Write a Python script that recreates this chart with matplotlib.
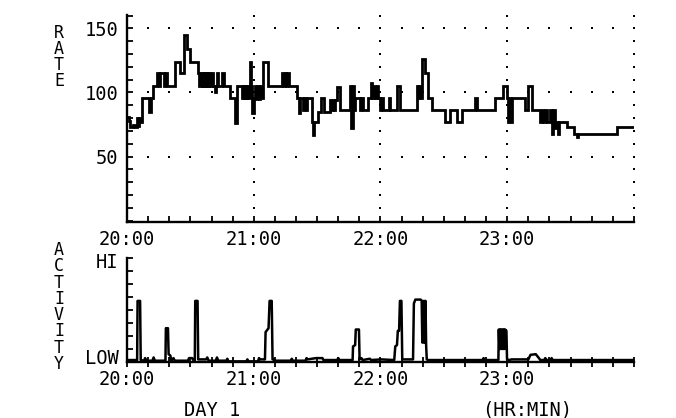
import numpy as np
import matplotlib.pyplot as plt
from matplotlib.ticker import MultipleLocator, FixedLocator

plt.rcParams['font.family'] = ['DejaVu Sans Mono', 'DejaVu Sans']

# heart rate (beats/min), stepped: (minute after 20:00 where the level starts, rate)
hr_steps = [
    (0.0, 81), (0.8, 78), (1.4, 73), (3.0, 75), (3.6, 73), (4.6, 80), (5.2, 74),
    (5.7, 80), (6.2, 77), (6.9, 96), (10.4, 85), (11.2, 96), (12.5, 105),
    (14.0, 115), (15.2, 105), (15.8, 115), (17.4, 105), (18.0, 115), (18.8, 105),
    (22.7, 124), (25.1, 115), (27.0, 145), (28.3, 134), (29.8, 124), (33.8, 115),
    (34.3, 105), (34.8, 115), (35.3, 105), (35.8, 115), (36.3, 105), (36.8, 115),
    (37.4, 105), (37.9, 115), (38.4, 105), (39.0, 115), (39.5, 105), (40.1, 115),
    (40.6, 105), (41.5, 100), (42.0, 105), (42.5, 115), (43.1, 105), (45.2, 115),
    (45.7, 105), (48.8, 96), (51.2, 76), (52.3, 105), (54.3, 96), (54.8, 105),
    (55.3, 96), (55.8, 105), (56.3, 96), (56.9, 105), (57.4, 96), (58.0, 124),
    (58.7, 105), (59.3, 84), (59.9, 96), (60.6, 105), (61.1, 95), (61.7, 105),
    (62.3, 95), (62.9, 105), (63.5, 96), (64.6, 124), (66.9, 105), (73.3, 115),
    (74.0, 105), (74.6, 115), (75.2, 105), (75.8, 115), (76.5, 105), (80.4, 96),
    (81.3, 84), (81.9, 96), (83.5, 86), (84.0, 96), (84.6, 86), (85.2, 96),
    (87.5, 77), (88.1, 67), (88.7, 77), (90.6, 85), (92.0, 96), (93.4, 85),
    (96.1, 94), (96.7, 86), (97.3, 94), (97.9, 86), (98.4, 94), (99.3, 104),
    (100.8, 86), (105.6, 105), (106.2, 72), (106.8, 105), (107.4, 86), (108.0, 96),
    (110.3, 86), (111.0, 96), (111.5, 86), (114.3, 96), (115.5, 107), (116.2, 96),
    (117.0, 105), (117.6, 96), (118.5, 105), (119.0, 96), (119.8, 86), (120.4, 96),
    (121.0, 86), (124.0, 96), (124.6, 86), (127.7, 105), (129.3, 86), (137.2, 105),
    (137.8, 96), (138.4, 105), (139.0, 96), (139.6, 126), (141.1, 115), (142.7, 96),
    (144.3, 86), (150.6, 77), (153.0, 86), (156.1, 77), (158.5, 86), (164.8, 96),
    (165.9, 86), (174.3, 96), (178.2, 105), (179.8, 96), (180.4, 77), (181.0, 96),
    (181.6, 77), (182.3, 96), (188.5, 86), (190.0, 105), (191.6, 86), (195.6, 77),
    (196.3, 86), (197.0, 77), (198.0, 86), (198.6, 77), (200.3, 86), (201.0, 68),
    (201.7, 86), (202.4, 72), (203.1, 77), (203.8, 68), (204.5, 77), (208.2, 73),
    (211.4, 68), (213.0, 65), (213.6, 68), (231.9, 73), (239.8, 73),
]

# activity level (0 = floor of the panel, 8 = top): (minute, level)
act_points = [
    (0, 0.15), (4.8, 0.15), (5.0, 4.7), (6.2, 4.7), (6.5, 0.15), (8.0, 0.1),
    (8.6, 0.3), (9.2, 0.1), (12.0, 0.1), (12.6, 0.35), (13.2, 0.1), (18.2, 0.1),
    (18.4, 2.6), (19.4, 2.6), (19.7, 0.6), (20.5, 0.5), (21.0, 0.1), (22.0, 0.3),
    (22.6, 0.1), (28.8, 0.1), (29.4, 0.3), (30.8, 0.3), (31.6, 0.1), (32.1, 0.1),
    (32.3, 4.7), (33.4, 4.7), (33.7, 0.2), (37.4, 0.2), (38.0, 0.35), (38.6, 0.1),
    (42.0, 0.1), (42.6, 0.35), (43.2, 0.1), (47.0, 0.1), (47.5, 0.25), (48.0, 0.05),
    (56.5, 0.05), (57.0, 0.2), (57.5, 0.05), (62.0, 0.05), (62.5, 0.3), (63.0, 0.2),
    (65.3, 0.2), (65.6, 2.3), (67.0, 2.6), (67.5, 4.7), (68.5, 4.7), (68.9, 0.2),
    (69.5, 0.2), (70.0, 0.1), (77.5, 0.1), (78.0, 0.25), (78.5, 0.1), (84.5, 0.1),
    (85.0, 0.3), (85.5, 0.2), (89.5, 0.3), (92.5, 0.3), (93.0, 0.15), (99.5, 0.15),
    (100.0, 0.3), (100.5, 0.15), (106.8, 0.15), (107.0, 1.2), (108.0, 1.3),
    (108.3, 2.5), (109.8, 2.5), (110.1, 0.2), (111.0, 0.3), (111.5, 0.15),
    (115.0, 0.25), (115.5, 0.15), (120.5, 0.2), (126.5, 0.15), (127.0, 1.2),
    (127.8, 1.3), (128.2, 2.4), (128.8, 2.4), (129.2, 4.7), (129.9, 4.7),
    (130.3, 0.2), (135.4, 0.2), (135.8, 4.5), (136.5, 4.8), (139.0, 4.8),
    (139.5, 4.7), (139.8, 1.5), (140.1, 4.7), (140.4, 1.5), (140.7, 4.7),
    (141.0, 1.5), (141.3, 4.7), (141.6, 1.3), (141.9, 0.2), (142.5, 0.15),
    (168.5, 0.15), (168.8, 0.3), (169.3, 0.15), (175.8, 0.15), (176.0, 2.5),
    (176.3, 1.0), (176.6, 2.5), (176.9, 1.0), (177.2, 2.5), (177.5, 1.0),
    (177.8, 2.5), (178.1, 1.0), (178.4, 2.5), (178.7, 1.0), (179.0, 2.5),
    (179.6, 2.4), (179.9, 0.2), (181.0, 0.15), (182.0, 0.2), (190.0, 0.2),
    (191.0, 0.55), (193.5, 0.6), (195.0, 0.3), (195.6, 0.15), (197.5, 0.15),
    (198.0, 0.3), (198.5, 0.15), (200.5, 0.15), (201.0, 0.3), (201.5, 0.15),
    (240, 0.15),
]

hour_ticks = [0, 60, 120, 180]
hour_labels = ["20:00", "21:00", "22:00", "23:00"]
rate_ticks = [50, 100, 150]
act_ticks = [0.4, 7.8]
act_labels = ["LOW", "HI"]

hr_t, hr_v = zip(*hr_steps)
act_t, act_v = zip(*act_points)

W, H = 676, 418
fig = plt.figure(figsize=(W / 100, H / 100), dpi=100)
ax1 = fig.add_axes([127 / W, 1 - 222 / H, 507 / W, 207 / H])
ax2 = fig.add_axes([127 / W, 1 - 362 / H, 507 / W, 104 / H])

FS = 13.5

# ---- rate panel
ax1.plot(hr_t, hr_v, drawstyle='steps-post', color='black', lw=2.0,
         solid_joinstyle='miter')
ax1.set_xlim(0, 240)
ax1.set_ylim(-1, 160.4)

# dotted grid, one dot per minor tick
minor_x = np.arange(10, 241, 10)
minor_y = np.arange(10, 161, 10)
for y in rate_ticks:
    ax1.scatter(minor_x, np.full(len(minor_x), y), s=2.5, marker='s',
                color='black', lw=0)
for x in [60, 120, 180, 240]:
    ax1.scatter(np.full(len(minor_y), x), minor_y, s=2.5, marker='s',
                color='black', lw=0)

ax1.set_yticks(rate_ticks)
ax1.yaxis.set_minor_locator(MultipleLocator(10))
ax1.set_xticks(hour_ticks, hour_labels)
ax1.xaxis.set_minor_locator(FixedLocator(list(range(10, 241, 10))))
ax1.tick_params(which='both', direction='in', length=4, width=1.3,
                labelsize=FS, pad=6)
ax1.tick_params(axis='x', pad=6)
for s in ['top', 'right']:
    ax1.spines[s].set_visible(False)
for s in ['left', 'bottom']:
    ax1.spines[s].set_linewidth(1.7)

# ---- activity panel
ax2.plot(act_t, act_v, color='black', lw=1.8)
ax2.set_xlim(0, 240)
ax2.set_ylim(0, 8)
ax2.set_yticks(act_ticks, act_labels)
ax2.yaxis.set_minor_locator(FixedLocator(list(range(1, 9))))
ax2.tick_params(axis='y', which='major', length=0, labelsize=FS, pad=6)
ax2.tick_params(axis='y', which='minor', direction='in', length=4, width=1.3)
ax2.set_xticks(hour_ticks, hour_labels)
ax2.xaxis.set_minor_locator(FixedLocator(list(range(10, 241, 10))))
ax2.tick_params(axis='x', which='both', direction='inout', length=7,
                width=1.3, labelsize=FS, pad=2)
for s in ['top', 'right']:
    ax2.spines[s].set_visible(False)
for s in ['left', 'bottom']:
    ax2.spines[s].set_linewidth(1.7)

# stacked axis names and footer
fig.text(59 / W, 1 - 57 / H, "R\nA\nT\nE", ha='center', va='center',
         fontsize=12, linespacing=0.88)
fig.text(59 / W, 1 - 307 / H, "A\nC\nT\nI\nV\nI\nT\nY", ha='center',
         va='center', fontsize=12, linespacing=0.88)
fig.text(212 / W, 1 - 410 / H, "DAY 1", ha='center', va='center', fontsize=FS)
fig.text(527 / W, 1 - 410 / H, "(HR:MIN)", ha='center', va='center',
         fontsize=FS)

fig.savefig("out.png", dpi=100)
